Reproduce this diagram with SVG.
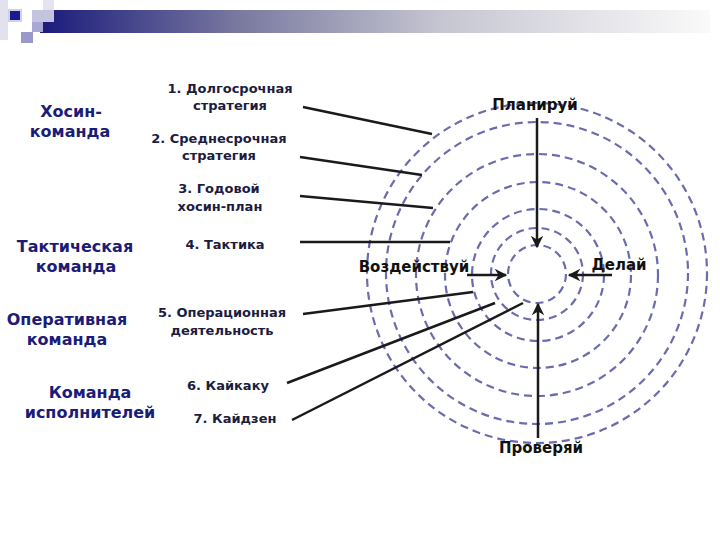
<svg xmlns="http://www.w3.org/2000/svg" width="720" height="540" viewBox="0 0 720 540">
<style>
.ring{fill:none;stroke:#6c6cac;stroke-width:2.2;stroke-dasharray:8 5}
.ln{stroke:#1a1a1a;stroke-width:2.5;fill:none}
.arr{stroke:#1a1a1a;stroke-width:2.5;fill:none;marker-end:url(#ah)}
.team{font-family:"DejaVu Sans",Verdana,sans-serif;font-weight:bold;font-size:16px;fill:#1c1c78;text-anchor:middle}
.lvl{font-family:"DejaVu Sans",Verdana,sans-serif;font-weight:bold;font-size:13px;fill:#1c1c40;text-anchor:middle}
.act{font-family:"DejaVu Sans",Verdana,sans-serif;font-weight:bold;font-size:15px;fill:#111;text-anchor:middle}
</style>
<defs>
<linearGradient id="bar" x1="0" y1="0" x2="1" y2="0">
<stop offset="0" stop-color="#1a1a7c"/>
<stop offset="0.3" stop-color="#7a7aa0"/>
<stop offset="0.6" stop-color="#c6c6d2"/>
<stop offset="1" stop-color="#fafafa"/>
</linearGradient>
<marker id="ah" viewBox="0 0 10 10" refX="9" refY="5" markerWidth="5" markerHeight="5" orient="auto" markerUnits="strokeWidth">
<path d="M0,0 L10,5 L0,10 L3,5 z" fill="#1a1a1a"/>
</marker>
</defs>
<g id="header">
<rect x="0" y="0" width="8" height="40" fill="#e2e2ee"/>
<rect x="40" y="10" width="670" height="23" fill="url(#bar)"/>
<rect x="43" y="0" width="11" height="10" fill="#e4e4f0"/>
<rect x="32" y="10" width="22" height="12" fill="#c4c4de"/>
<rect x="32" y="22" width="11" height="10" fill="#a8a8d4"/>
<rect x="21" y="32" width="12" height="11" fill="#9898cc"/>
<rect x="8" y="9" width="14" height="13" fill="#d0d0e8"/>
<rect x="10" y="11" width="10" height="9" fill="#1a1a92"/>
</g>
<g id="rings">
<circle class="ring" cx="537" cy="274" r="29"/>
<circle class="ring" cx="537" cy="274" r="46"/>
<circle class="ring" cx="538" cy="275" r="66"/>
<circle class="ring" cx="538" cy="275" r="93"/>
<circle class="ring" cx="537" cy="275" r="121"/>
<circle class="ring" cx="537" cy="273" r="151"/>
<circle class="ring" cx="537" cy="273" r="170"/>
</g>
<g id="connectors">
<line class="ln" x1="303" y1="107" x2="432" y2="134"/>
<line class="ln" x1="300" y1="157" x2="422" y2="175"/>
<line class="ln" x1="300" y1="196" x2="433" y2="208"/>
<line class="ln" x1="300" y1="242" x2="450" y2="242"/>
<line class="ln" x1="303" y1="314" x2="473" y2="292"/>
<line class="ln" x1="287" y1="383" x2="495" y2="303"/>
<line class="ln" x1="292" y1="420" x2="523" y2="303"/>
<line class="arr" x1="537" y1="118" x2="537" y2="247"/>
<line class="arr" x1="538" y1="438" x2="538" y2="304"/>
<line class="arr" x1="467" y1="275" x2="506" y2="275"/>
<line class="arr" x1="612" y1="275" x2="569" y2="275"/>
</g>
<g id="team-hoshin"><text class="team" x="71" y="117">Хосин-</text><text class="team" x="70" y="137">команда</text></g>
<g id="team-tactical"><text class="team" x="75" y="252">Тактическая</text><text class="team" x="76" y="272">команда</text></g>
<g id="team-operative"><text class="team" x="67" y="325">Оперативная</text><text class="team" x="67" y="345">команда</text></g>
<g id="team-exec"><text class="team" x="90" y="398">Команда</text><text class="team" x="90" y="418">исполнителей</text></g>
<g id="lvl1"><text class="lvl" x="230" y="93">1. Долгосрочная</text><text class="lvl" x="230" y="110">стратегия</text></g>
<g id="lvl2"><text class="lvl" x="219" y="143">2. Среднесрочная</text><text class="lvl" x="219" y="160">стратегия</text></g>
<g id="lvl3"><text class="lvl" x="219" y="193">3. Годовой</text><text class="lvl" x="220" y="211">хосин-план</text></g>
<g id="lvl4"><text class="lvl" x="225" y="249">4. Тактика</text></g>
<g id="lvl5"><text class="lvl" x="222" y="317">5. Операционная</text><text class="lvl" x="222" y="335">деятельность</text></g>
<g id="lvl6"><text class="lvl" x="228" y="390">6. Кайкаку</text></g>
<g id="lvl7"><text class="lvl" x="235" y="423">7. Кайдзен</text></g>
<g id="plan"><text class="act" x="535" y="110">Планируй</text></g>
<g id="act"><text class="act" x="414" y="272">Воздействуй</text></g>
<g id="do"><text class="act" x="619" y="270">Делай</text></g>
<g id="check"><text class="act" x="541" y="453">Проверяй</text></g>
</svg>
